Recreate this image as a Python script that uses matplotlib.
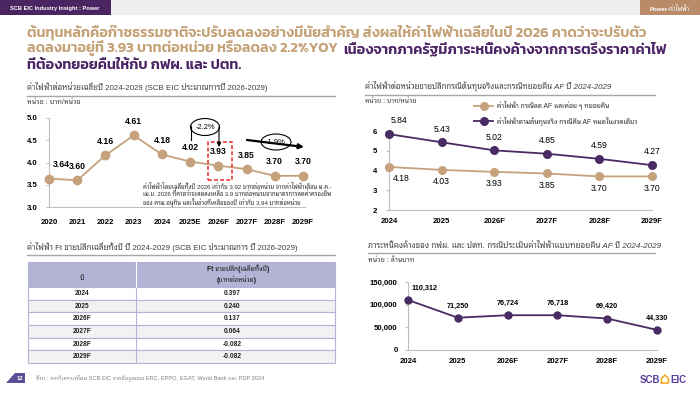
import matplotlib
matplotlib.use("Agg")
import matplotlib.pyplot as plt
from matplotlib import font_manager as fm
from matplotlib.patches import Rectangle, Ellipse, Polygon
import matplotlib.ticker as mticker

# ---------------- data ----------------
years1 = ["2020", "2021", "2022", "2023", "2024", "2025E", "2026F", "2027F", "2028F", "2029F"]
price1 = [3.64, 3.60, 4.16, 4.61, 4.18, 4.02, 3.93, 3.85, 3.70, 3.70]
y1_ticks = [3.0, 3.5, 4.0, 4.5, 5.0]

years2 = ["2024", "2025", "2026F", "2027F", "2028F", "2029F"]
price_af = [4.18, 4.03, 3.93, 3.85, 3.70, 3.70]
price_cost = [5.84, 5.43, 5.02, 4.85, 4.59, 4.27]
y2_ticks = [2, 3, 4, 5, 6]
legend2 = ["ค่าไฟฟ้า กรณีลด AF และค่อย ๆ ทยอยคืน",
           "ค่าไฟฟ้าตามต้นทุนจริง กรณีคืน AF หมดในงวดเดียว"]

years3 = ["2024", "2025", "2026F", "2027F", "2028F", "2029F"]
debt = [110312, 71250, 76724, 76718, 69420, 44330]
y3_ticks = [0, 50000, 100000, 150000]

table_years = ["2024", "2025", "2026F", "2027F", "2028F", "2029F"]
table_ft = ["0.397", "0.240", "0.137", "0.064", "-0.082", "-0.082"]

# ---------------- fonts ----------------
names = {f.name for f in fm.fontManager.ttflist}
def pick(cands):
    for c in cands:
        if c in names:
            return c
    return "DejaVu Sans"
HEAD = pick(["Kanit", "Prompt", "Anuphan", "Noto Sans Thai", "Bai Jamjuree", "Athiti", "Chakra Petch"])
BODY = pick(["Tahoma", "Noto Sans Thai Looped", "Sarabun", "Noto Sans Thai", "Anuphan", "Bai Jamjuree", "Athiti"])
FH = [HEAD, "DejaVu Sans"]
FB = ["Liberation Sans", BODY, "DejaVu Sans"]
plt.rcParams['font.family'] = FB

GOLD = "#c5a176"
PURP = "#4b2466"
TAN = "#c6a27c"
LPURP = "#4a2a62"
GRAYL = "#a6a6a6"
SPINE = "#bfbfbf"
LAV = "#b3b3d6"

W, H = 700, 394
fig = plt.figure(figsize=(7, 3.94), dpi=100)
fig.patch.set_facecolor("white")
R = fig.canvas.get_renderer()

ov = fig.add_axes([0, 0, 1, 1], zorder=10)
ov.set_xlim(0, W)
ov.set_ylim(H, 0)
ov.axis('off')
ov.patch.set_alpha(0)

def txt(x, y, s, width=None, size=6, **kw):
    t = ov.text(x, y, s, fontsize=size, **kw)
    if width:
        w = t.get_window_extent(R).width
        t.set_fontsize(size * width / w)
    return t

def pxax(l, t, r, b):
    return fig.add_axes([l / W, 1 - b / H, (r - l) / W, (b - t) / H])

# ---------------- header ----------------
ov.add_patch(Rectangle((0, 0), 111, 15, color="#4b2462", lw=0))
ov.add_patch(Rectangle((111, 0), 529, 15, color="#efefef", lw=0))
ov.add_patch(Rectangle((640, 0), 60, 15, color="#b98b69", lw=0))
txt(10, 8, "SCB EIC Industry Insight : Power", width=90, color="white",
    fontweight="bold", va="center")
txt(670, 8, "Power-ค่าไฟฟ้า", width=40, color="white", fontweight="bold",
    va="center", ha="center")

HW = "semibold"
h1 = txt(27, 36, "ต้นทุนหลักคือก๊าซธรรมชาติจะปรับลดลงอย่างมีนัยสำคัญ ส่งผลให้ค่าไฟฟ้าเฉลี่ยในปี 2026 คาดว่าจะปรับตัว",
         width=618, size=12, color=GOLD, fontweight=HW, va="baseline", family=FH)
hs = h1.get_fontsize()
g2 = ov.text(27, 53, "ลดลงมาอยู่ที่ 3.93 บาทต่อหน่วย หรือลดลง 2.2%YOY", fontsize=hs,
             color=GOLD, fontweight=HW, va="baseline", family=FH)
gx = g2.get_window_extent(R).x1
ov.text(gx + 5, 53, "เนื่องจากภาครัฐมีภาระหนี้คงค้างจากการตรึงราคาค่าไฟ", fontsize=hs,
        color=PURP, fontweight=HW, va="baseline", family=FH)
ov.text(27, 69, "ที่ต้องทยอยคืนให้กับ กฟผ. และ ปตท.", fontsize=hs,
        color=PURP, fontweight=HW, va="baseline", family=FH)

# ---------------- section titles ----------------
txt(27, 87, "ค่าไฟฟ้าต่อหน่วยเฉลี่ยปี 2024-2029 (SCB EIC ประมาณการปี 2026-2029)",
    width=241, color="#404040", va="center")
ov.plot([27, 335], [95.5, 95.5], color=GRAYL, lw=1)
txt(27, 102, "หน่วย : บาท/หน่วย", width=54, color="#404040", va="center")

txt(365, 86, "ค่าไฟฟ้าต่อหน่วยขายปลีกกรณีต้นทุนจริงและกรณีทยอยคืน AF ปี 2024-2029",
    width=248, color="#404040", va="center", fontstyle="italic")
ov.plot([365, 655], [95, 95], color=GRAYL, lw=1)
txt(365, 101, "หน่วย : บาท/หน่วย", width=52, color="#404040", va="center")

txt(27, 247, "ค่าไฟฟ้า Ft ขายปลีกเฉลี่ยทั้งปี ปี 2024-2029 (SCB EIC ประมาณการ ปี 2026-2029)",
    width=273, color="#404040", va="center")
ov.plot([27, 335], [255, 255], color=GRAYL, lw=1)

txt(368, 246, "ภาระหนี้คงค้างของ กฟผ. และ ปตท. กรณีประเมินค่าไฟฟ้าแบบทยอยคืน AF ปี 2024-2029",
    width=295, color="#404040", va="center", fontstyle="italic")
ov.plot([368, 655], [253, 253], color=GRAYL, lw=1)
txt(368, 261, "หน่วย : ล้านบาท", width=47, color="#404040", va="center")

def style(ax, xpad, ypad, fs):
    for s in ["top", "right"]:
        ax.spines[s].set_visible(False)
    for s in ["left", "bottom"]:
        ax.spines[s].set_color(SPINE)
        ax.spines[s].set_linewidth(0.8)
    ax.tick_params(axis="x", length=0, pad=xpad, labelsize=fs)
    ax.tick_params(axis="y", length=2.5, color=SPINE, width=0.8, pad=ypad, labelsize=fs)
    for lab in ax.get_xticklabels() + ax.get_yticklabels():
        lab.set_fontweight("bold")
    ax.patch.set_alpha(0)

# ---------------- chart 1 ----------------
ax1 = pxax(49, 118, 305, 207)
x1 = list(range(len(years1)))
ax1.plot(x1, price1, color=TAN, lw=1.3, marker="o", ms=6, clip_on=False, zorder=3)
ax1.set_xlim(0, 9 * 256 / 254)
ax1.set_ylim(3.0, 5.0)
ax1.set_yticks(y1_ticks)
ax1.yaxis.set_major_formatter(mticker.FormatStrFormatter("%.1f"))
ax1.set_xticks(x1)
ax1.set_xticklabels(years1)
style(ax1, 8.5, 6, 5.6)
for i, v in enumerate(price1):
    dx = 9 if i == 0 else 0
    ax1.annotate(f"{v:.2f}", (i, v), xytext=(dx, 10), textcoords="offset points",
                 ha="center", va="center", fontsize=6.2, fontweight="bold")
ax1.add_patch(Rectangle((5.64, 3.61), 0.85, 0.84, fill=False, edgecolor="#e8262a",
                        ls=(0, (2.5, 1.5)), lw=1.1, clip_on=False, zorder=4))

# annotations chart 1
ov.plot([191, 191], [126, 140], color="black", lw=0.8)
ov.annotate("", xy=(219, 147), xytext=(219, 127),
            arrowprops=dict(arrowstyle="-|>", color="black", lw=0.8, mutation_scale=6,
                            shrinkA=0, shrinkB=0))
ov.add_patch(Ellipse((205, 127), 29, 17, facecolor="white", edgecolor="black", lw=0.8))
ov.text(205, 127, "-2.2%", fontsize=5.4, ha="center", va="center")
ov.annotate("", xy=(304, 147), xytext=(247, 140),
            arrowprops=dict(arrowstyle="-|>", color="black", lw=1.6, mutation_scale=7,
                            shrinkA=0, shrinkB=0))
ov.add_patch(Ellipse((276, 142), 30, 16, facecolor="white", edgecolor="black", lw=0.8))
ov.text(276, 142, "-1.9%", fontsize=5.4, ha="center", va="center")

a1 = txt(143, 186, "ค่าไฟฟ้าโดยเฉลี่ยทั้งปี 2026 เท่ากับ 3.92 บาทต่อหน่วย จากค่าไฟฟ้าเดือน ม.ค.-",
         width=190, size=4.5, color="#303030", va="center")
afs = a1.get_fontsize()
ov.text(143, 194, "เม.ย. 2026 ที่คาดว่าจะลดลงเหลือ 3.9 บาทต่อหน่วยจากมาตรการลดค่าครองชีพ",
        fontsize=afs, color="#303030", va="center")
ov.text(143, 202, "ของ ครม.อนุทิน และในช่วงที่เหลือของปี เท่ากับ 3.94 บาทต่อหน่วย",
        fontsize=afs, color="#303030", va="center")

# ---------------- chart 2 ----------------
ax2 = pxax(389, 131, 652, 210)
x2 = list(range(len(years2)))
ax2.plot(x2, price_af, color=TAN, lw=1.3, marker="o", ms=5.5, clip_on=False, zorder=3,
         label=legend2[0])
ax2.plot(x2, price_cost, color=LPURP, lw=1.3, marker="o", ms=5.5, clip_on=False, zorder=3,
         label=legend2[1])
ax2.set_xlim(0, 5)
ax2.set_ylim(2, 6)
ax2.set_yticks(y2_ticks)
ax2.set_xticks(x2)
ax2.set_xticklabels(years2)
style(ax2, 6, 6, 5.6)
for i, v in enumerate(price_cost):
    dx = 7 if i == 0 else 0
    ax2.annotate(f"{v:.2f}", (i, v), xytext=(dx, 9.5), textcoords="offset points",
                 ha="center", va="center", fontsize=6.2)
for i, v in enumerate(price_af):
    dx = 9 if i == 0 else 0
    ax2.annotate(f"{v:.2f}", (i, v), xytext=(dx, -8.5), textcoords="offset points",
                 ha="center", va="center", fontsize=6.2)

tmp = ov.text(0, 0, legend2[1], fontsize=6)
lfs = 6 * 142 / tmp.get_window_extent(R).width
tmp.remove()
leg = ax2.legend(loc="upper left", bbox_to_anchor=(474 / W, 1 - 101 / H),
                 bbox_transform=fig.transFigure, frameon=False, fontsize=lfs,
                 borderpad=0, borderaxespad=0, handlelength=19 * 0.72 / lfs,
                 handletextpad=4 * 0.72 / lfs, labelspacing=1.0, markerscale=1.0)
for t in leg.get_texts():
    t.set_color("#303030")

# ---------------- chart 3 ----------------
ax3 = pxax(408, 282, 657, 350)
x3 = list(range(len(years3)))
ax3.plot(x3, debt, color=LPURP, lw=1.3, marker="o", ms=5, clip_on=False, zorder=3)
ax3.set_xlim(0, 5)
ax3.set_ylim(0, 150000)
ax3.set_yticks(y3_ticks)
ax3.yaxis.set_major_formatter(mticker.FuncFormatter(lambda v, p: f"{int(v):,}"))
ax3.set_xticks(x3)
ax3.set_xticklabels(years3)
style(ax3, 5.5, 5, 5.6)
for i, v in enumerate(debt):
    dx = 12 if i == 0 else 0
    ax3.annotate(f"{v:,}", (i, v), xytext=(dx, 8.5), textcoords="offset points",
                 ha="center", va="center", fontsize=5.2, fontweight="bold")

# ---------------- table ----------------
tl, tr, tt, hb = 28, 335, 262, 287
cs = 136
rh = (363 - hb) / len(table_years)
ov.add_patch(Rectangle((tl, tt), tr - tl, hb - tt, facecolor=LAV, edgecolor=LAV, lw=0.8))
for i, (yy, ft) in enumerate(zip(table_years, table_ft)):
    top = hb + i * rh
    fc = "#f2f2f2" if i % 2 == 1 else "white"
    ov.add_patch(Rectangle((tl, top), tr - tl, rh, facecolor=fc, edgecolor=LAV, lw=0.8))
    ov.text((tl + cs) / 2, top + rh / 2, yy, fontsize=4.8, fontweight="bold",
            ha="center", va="center", color="#202020")
    ov.text(232, top + rh / 2, ft, fontsize=4.8, fontweight="bold",
            ha="center", va="center", color="#202020")
ov.plot([cs, cs], [hb, 363], color=LAV, lw=0.8)
ov.plot([cs, cs], [tt, hb], color="white", lw=0.8)
ov.text((tl + cs) / 2, 278, "ปี", fontsize=5, fontweight="bold", ha="center", va="center",
        color="#202020")
ht = txt(238, 269, "Ft ขายปลีก(เฉลี่ยทั้งปี)", width=63, fontweight="bold", ha="center",
         va="center", color="#202020")
ov.text(237, 280, "(บาทต่อหน่วย)", fontsize=ht.get_fontsize(), fontweight="bold",
        ha="center", va="center", color="#202020")

# ---------------- footer ----------------
ov.add_patch(Polygon([(6, 383), (15, 373), (25, 373), (25, 383)], closed=True,
                     color="#5c4f96", lw=0))
ov.text(19.5, 378.3, "12", fontsize=4.2, color="white", fontweight="bold",
        ha="center", va="center")
txt(36, 378, "ที่มา : การวิเคราะห์โดย SCB EIC จากข้อมูลของ ERC, EPPO, EGAT, World Bank และ PDP 2024",
    width=229, color="#7f7f7f", va="center")
LOGO = "#5a3d9a"
ov.text(660, 380, "SCB", fontsize=7, fontweight="bold", color=LOGO, ha="right", va="center")
ov.plot([661.5, 661.5, 665, 668.5, 668.5, 661.5], [383, 378.5, 375, 378.5, 383, 383],
        color="#f5a623", lw=1.1)
ov.text(670, 380, "EIC", fontsize=7, fontweight="bold", color=LOGO, ha="left", va="center")

fig.savefig("out.png", dpi=100)
